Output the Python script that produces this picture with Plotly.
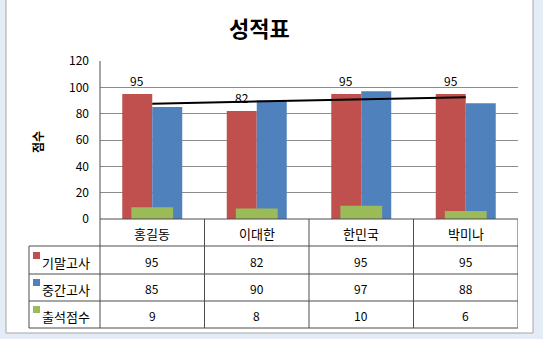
import numpy as np
import plotly.graph_objects as go

W, H = 543, 339
categories = ["홍길동", "이대한", "한민국", "박미나"]
series_names = ["기말고사", "중간고사", "출석점수"]
final_exam = [95, 82, 95, 95]
midterm = [85, 90, 97, 88]
attendance = [9, 8, 10, 6]
colors = ["#C0504D", "#4F81BD", "#9BBB59"]
y_ticks = [0, 20, 40, 60, 80, 100, 120]

FONT = "Noto Sans CJK KR"

def px(x):
    return x / W

def py(y):
    return 1 - y / H

# plot area in px
PL, PR, PT, PB = 100, 518, 61, 219

xs = list(range(len(categories)))
fig = go.Figure()
bw = 0.287
fig.add_trace(go.Bar(x=xs, y=final_exam, name=series_names[0], marker_color=colors[0],
                     width=bw, offset=-bw, marker_line_width=0))
fig.add_trace(go.Bar(x=xs, y=midterm, name=series_names[1], marker_color=colors[1],
                     width=bw, offset=0, marker_line_width=0))
gw = 0.40
fig.add_trace(go.Bar(x=xs, y=attendance, name=series_names[2], marker_color=colors[2],
                     width=gw, offset=-gw / 2, marker_line_width=0))

# linear trendline of 중간고사
k, b = np.polyfit(np.array(xs, dtype=float), np.array(midterm, dtype=float), 1)
tx = [xs[0], xs[-1]]
fig.add_trace(go.Scatter(x=tx, y=[k * t + b for t in tx], mode="lines",
                         line=dict(color="black", width=2), showlegend=False))

shapes = []
annotations = []

def ann(**kw):
    kw.setdefault("showarrow", False)
    kw.setdefault("xanchor", "center")
    kw.setdefault("yanchor", "middle")
    annotations.append(kw)

# frame
shapes.append(dict(type="rect", xref="paper", yref="paper", x0=px(6), x1=px(533),
                   y0=py(333), y1=py(-5), fillcolor="white",
                   line=dict(color="#a6a6a6", width=1), layer="below"))

# data labels on 기말고사
for i, v in enumerate(final_exam):
    ann(x=i - bw / 2, y=v, xref="x", yref="y", text=str(v), yanchor="bottom", yshift=3,
        font=dict(size=12, color="black", family=FONT))

LC = "#4d4d4d"
row_lines = [246, 274, 301, 328]
shapes.append(dict(type="line", xref="paper", yref="paper", x0=px(PL), x1=px(PR),
                   y0=py(PB), y1=py(PB), line=dict(color=LC, width=1)))
for yy in row_lines:
    shapes.append(dict(type="line", xref="paper", yref="paper", x0=px(29), x1=px(PR),
                       y0=py(yy), y1=py(yy), line=dict(color=LC, width=1)))
shapes.append(dict(type="line", xref="paper", yref="paper", x0=px(29), x1=px(29),
                   y0=py(246), y1=py(328), line=dict(color=LC, width=1)))
shapes.append(dict(type="line", xref="paper", yref="paper", x0=px(PL), x1=px(PL),
                   y0=py(PT), y1=py(328), line=dict(color=LC, width=1)))
for i in range(1, len(categories) + 1):
    shapes.append(dict(type="line", xref="x", yref="paper", x0=i - 0.5, x1=i - 0.5,
                       y0=py(PB), y1=py(328), line=dict(color=LC, width=1)))

# category header
for i, c in enumerate(categories):
    ann(x=i, y=py(233), xref="x", yref="paper", text=c,
        font=dict(size=13, color="black", family=FONT))

rows = [final_exam, midterm, attendance]
row_centers = [261, 288, 315]
for r, (vals, yc) in enumerate(zip(rows, row_centers)):
    for i, v in enumerate(vals):
        ann(x=i, y=py(yc), xref="x", yref="paper", text=str(v),
            font=dict(size=12, color="black", family=FONT))
    ann(x=px(40), y=py(yc + 1), xref="paper", yref="paper", text=series_names[r],
        xanchor="left", font=dict(size=13, color="black", family=FONT))
    shapes.append(dict(type="rect", xref="paper", yref="paper", x0=px(33), x1=px(40),
                       y0=py(yc - 2), y1=py(yc - 9), fillcolor=colors[r], line=dict(width=0)))

# title
ann(x=px(259), y=py(27), xref="paper", yref="paper", text="<b>성적표</b>",
    font=dict(size=22, color="black", family=FONT))
# y-axis title
ann(x=px(37), y=py(142), xref="paper", yref="paper", text="<b>점수</b>", textangle=-90,
    font=dict(size=12, color="black", family=FONT))

fig.update_layout(
    width=W, height=H,
    margin=dict(l=0, r=0, t=0, b=0, autoexpand=False),
    paper_bgcolor="#e4edf5",
    plot_bgcolor="rgba(0,0,0,0)",
    barmode="overlay",
    showlegend=False,
    shapes=shapes,
    annotations=annotations,
    font=dict(family=FONT, color="black"),
    xaxis=dict(domain=[px(PL), px(PR)], range=[-0.5, len(categories) - 0.5],
               showticklabels=False, showgrid=False, zeroline=False, showline=False,
               fixedrange=True, automargin=False),
    yaxis=dict(domain=[py(PB), py(PT)], range=[0, 120], tickvals=y_ticks,
               showgrid=True, gridcolor="#8c8c8c", gridwidth=1, zeroline=False,
               showline=False, ticks="", ticklabelstandoff=10, automargin=False,
               tickfont=dict(size=12, color="black", family=FONT)),
)

fig.write_html("out.html")
